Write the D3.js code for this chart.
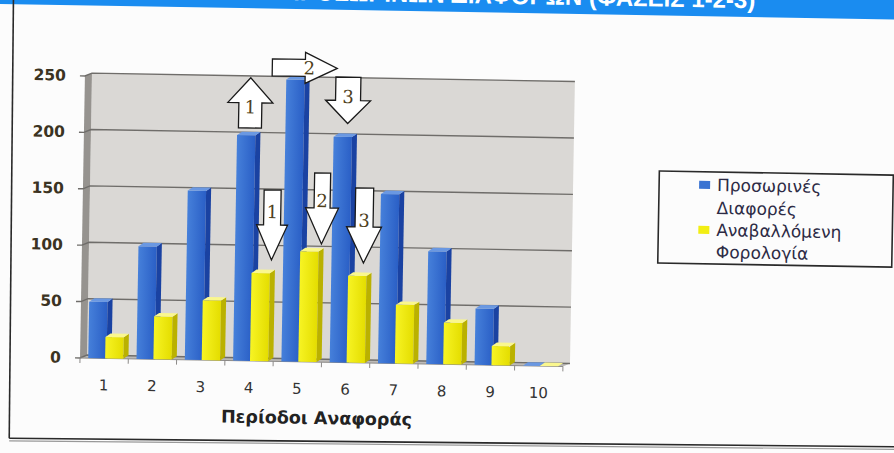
<!DOCTYPE html>
<html lang="el">
<head>
<meta charset="UTF-8">
<title>Προσωρινές Διαφορές - Αναβαλλόμενη Φορολογία</title>
<style>
  body { margin: 0; background: #fcfcfc; }
  svg { display: block; }
</style>
</head>
<body>
<div id="chart"></div>
<script src="https://d3js.org/d3.v7.min.js"></script>
<script>
// data
const periods = [1, 2, 3, 4, 5, 6, 7, 8, 9, 10];
const temporaryDiffs = [50, 100, 150, 200, 250, 200, 150, 100, 50, 0];
const deferredTax = [19, 38, 53, 78, 98, 77, 52, 37, 17, 0];
const yTicks = [0, 50, 100, 150, 200, 250];
const legendLabels = [["Προσωρινές", "Διαφορές"], ["Αναβαλλόμενη", "Φορολογία"]];
const xTitle = "Περίοδοι Αναφοράς";
const chartTitle = "ΑΝΤΙΣΤΡΟΦΗ ΠΡΟΣΩΡΙΝΩΝ ΔΙΑΦΟΡΩΝ (ΦΑΣΕΙΣ 1-2-3)";

// block arrows drawn over the bars (phase numbers)
const arrowLabels = ["1", "2", "3", "1", "2", "3"];
const arrowPeriods = [4, 5, 6, 4, 5, 6];
const arrowDirs = ["up", "right", "down", "down", "down", "down"];

const W = 894, H = 453;
const svg = d3.select("#chart").append("svg")
  .attr("width", W)
  .attr("height", H);

// the photo is slightly tilted
const page = svg.append("g").attr("transform", "rotate(1, 83, 358)");

const x = d3.scaleBand().domain(periods).range([80, 563]);
const y = d3.scaleLinear().domain([0, 250]).range([358, 76]);
const wd = [7, -3];      // wall depth
const bd = [5, -3.5];    // bar depth

const x0 = x.range()[0], x1 = x.range()[1];
const yb = y(0), yt = y(250);

// title bar
page.append("rect")
  .attr("x", -60).attr("y", -60)
  .attr("width", 1040).attr("height", 65.4)
  .attr("fill", "#1a8cf0");
page.append("text")
  .attr("x", 749).attr("y", -3.5)
  .attr("text-anchor", "end")
  .attr("fill", "white")
  .style("font-family", "Liberation Sans")
  .style("font-weight", "bold")
  .style("font-size", "24px")
  .text(chartTitle);

// walls
const plot = page.append("g");
plot.append("rect")
  .attr("x", x0 + wd[0]).attr("y", yt + wd[1])
  .attr("width", x1 - x0).attr("height", yb - yt)
  .attr("fill", "#dad8d5");
plot.append("path")
  .attr("d", `M${x0},${yt}L${x0 + wd[0]},${yt + wd[1]}L${x0 + wd[0]},${yb + wd[1]}L${x0},${yb}Z`)
  .attr("fill", "#96938f");
plot.append("path")
  .attr("d", `M${x0},${yb}L${x0 + wd[0]},${yb + wd[1]}L${x1 + wd[0]},${yb + wd[1]}L${x1},${yb}Z`)
  .attr("fill", "#bcbab7");

// gridlines
plot.selectAll(".grid")
  .data(yTicks)
  .join("path")
  .attr("class", "grid")
  .attr("fill", "none")
  .attr("stroke", "#6f6d6a")
  .attr("stroke-width", 1.4)
  .attr("d", v => `M${x0 - 5},${y(v)}L${x0},${y(v)}L${x0 + wd[0]},${y(v) + wd[1]}L${x1 + wd[0]},${y(v) + wd[1]}`);

// x axis ticks
plot.append("line")
  .attr("x1", x0).attr("x2", x1)
  .attr("y1", yb).attr("y2", yb)
  .attr("stroke", "#8c8a88").attr("stroke-width", 1);
plot.selectAll(".xtick")
  .data(periods.map(p => x(p)).concat([x1]))
  .join("line")
  .attr("class", "xtick")
  .attr("x1", d => d).attr("x2", d => d)
  .attr("y1", yb).attr("y2", yb + 5)
  .attr("stroke", "#8c8a88");

// gradients for the front faces
const defs = svg.append("defs");
const series = [
  { values: temporaryDiffs, off: 0.17, c0: "#4680da", c1: "#2a5fc6", side: "#1a42a2", top: "#6a98e2" },
  { values: deferredTax, off: 0.52, c0: "#f7f424", c1: "#e4dd00", side: "#bab100", top: "#faf78e" }
];
series.forEach((s, i) => {
  const g = defs.append("linearGradient").attr("id", "front" + i);
  g.append("stop").attr("offset", "0%").attr("stop-color", s.c0);
  g.append("stop").attr("offset", "100%").attr("stop-color", s.c1);
});

// bars
const bw = x.bandwidth() * 0.38;
const bars = plot.append("g");
periods.forEach((p, i) => {
  series.forEach((s, si) => {
    const bx = x(p) + x.bandwidth() * s.off;
    const by = y(s.values[i]);
    const g = bars.append("g");
    g.append("rect")
      .attr("x", bx).attr("y", by)
      .attr("width", bw).attr("height", yb - by)
      .attr("fill", `url(#front${si})`);
    g.append("path")
      .attr("d", `M${bx + bw},${by}L${bx + bw + bd[0]},${by + bd[1]}L${bx + bw + bd[0]},${yb + bd[1]}L${bx + bw},${yb}Z`)
      .attr("fill", s.side);
    g.append("path")
      .attr("d", `M${bx},${by}L${bx + bd[0]},${by + bd[1]}L${bx + bw + bd[0]},${by + bd[1]}L${bx + bw},${by}Z`)
      .attr("fill", s.top);
  });
});

// axis labels
page.selectAll(".ylab")
  .data(yTicks)
  .join("text")
  .attr("class", "ylab")
  .attr("x", 61).attr("y", v => y(v))
  .attr("text-anchor", "end")
  .attr("dominant-baseline", "central")
  .attr("fill", "#3b3322")
  .style("font-family", "DejaVu Sans")
  .style("font-weight", "bold")
  .style("font-size", "15.5px")
  .text(v => v);

page.selectAll(".xlab")
  .data(periods)
  .join("text")
  .attr("class", "xlab")
  .attr("x", p => x(p) + x.bandwidth() / 2)
  .attr("y", 385)
  .attr("text-anchor", "middle")
  .attr("dominant-baseline", "central")
  .attr("fill", "#333")
  .style("font-family", "DejaVu Sans")
  .style("font-size", "15px")
  .text(p => p);

page.append("text")
  .attr("x", (x0 + x1) / 2 - 4).attr("y", 414)
  .attr("text-anchor", "middle")
  .attr("dominant-baseline", "central")
  .attr("fill", "#222")
  .style("font-family", "DejaVu Sans")
  .style("font-weight", "bold")
  .style("font-size", "17.5px")
  .text(xTitle);

// arrows: tip / tail positions given inside the band and in data units
const arrowGeo = [
  { off: 21, tip: 251, tail: 206.5, sw: 23, hw: 45, hl: 25, lab: 0.58 },
  { off: -6, tipOff: 59, level: 260.6, sw: 17, hw: 31, hl: 32, lab: 0.57 },
  { off: 22, tip: 212, tail: 253, sw: 25, hw: 45, hl: 23, lab: 0.42 },
  { off: 44.8, tip: 89.8, tail: 151.9, sw: 17, hw: 31, hl: 35, lab: 0.31 },
  { off: 46.2, tip: 104.8, tail: 167.7, sw: 16, hw: 33, hl: 36, lab: 0.39 },
  { off: 40.2, tip: 88.6, tail: 155, sw: 18, hw: 35, hl: 36, lab: 0.43 }
];

function arrowPath(len, sw, hw, hl) {
  const s = sw / 2, h = hw / 2, b = len - hl;
  return `M0,${-s}L${b},${-s}L${b},${-h}L${len},0L${b},${h}L${b},${s}L0,${s}Z`;
}

const ann = page.append("g");
arrowGeo.forEach((a, i) => {
  const band = x(arrowPeriods[i]);
  let tx, ty, hx, hy;
  if (arrowDirs[i] === "right") {
    tx = band + a.off; hx = band + a.tipOff;
    ty = hy = y(a.level);
  } else {
    tx = hx = band + a.off;
    ty = y(a.tail); hy = y(a.tip);
  }
  const len = Math.hypot(hx - tx, hy - ty);
  const ang = Math.atan2(hy - ty, hx - tx) * 180 / Math.PI;
  ann.append("path")
    .attr("transform", `translate(${tx},${ty}) rotate(${ang})`)
    .attr("d", arrowPath(len, a.sw, a.hw, a.hl))
    .attr("fill", "white")
    .attr("stroke", "#1a1a1a")
    .attr("stroke-width", 1.3)
    .attr("stroke-linejoin", "miter");
  const t = arrowDirs[i] === "up" ? 1 - a.lab : a.lab;
  ann.append("text")
    .attr("x", tx + (hx - tx) * t)
    .attr("y", ty + (hy - ty) * t)
    .attr("text-anchor", "middle")
    .attr("dominant-baseline", "central")
    .attr("fill", "#4f3f1c")
    .style("font-family", "DejaVu Serif")
    .style("font-size", "18px")
    .text(arrowLabels[i]);
});

// legend
const legend = page.append("g");
legend.append("rect")
  .attr("x", 656).attr("y", 161)
  .attr("width", 234).attr("height", 92)
  .attr("fill", "none")
  .attr("stroke", "#2a2a2a")
  .attr("stroke-width", 1.6);
const lineY = [[174, 197], [219, 241]];
legendLabels.forEach((lines, i) => {
  legend.append("rect")
    .attr("x", 696).attr("y", lineY[i][0] - 4)
    .attr("width", 11).attr("height", 8)
    .attr("fill", i === 0 ? "#3a73d2" : "#f2ee14");
  lines.forEach((t, j) => {
    legend.append("text")
      .attr("x", 714).attr("y", lineY[i][j])
      .attr("dominant-baseline", "central")
      .attr("fill", "#2d2b45")
      .style("font-family", "DejaVu Sans")
      .style("font-size", "17px")
      .text(t);
  });
});

// outer frame of the slide
const frame = svg.append("g").attr("transform", "rotate(0.55, 83, 358)");
frame.append("line")
  .attr("x1", 10).attr("x2", 10).attr("y1", -20).attr("y2", 439)
  .attr("stroke", "#2a2a2a").attr("stroke-width", 1.6);
frame.append("line")
  .attr("x1", 10).attr("x2", 920).attr("y1", 439).attr("y2", 439)
  .attr("stroke", "#2a2a2a").attr("stroke-width", 1.6);
frame.append("line")
  .attr("x1", 10).attr("x2", 920).attr("y1", 441.5).attr("y2", 441.5)
  .attr("stroke", "#999").attr("stroke-width", 1.2);
</script>
</body>
</html>
